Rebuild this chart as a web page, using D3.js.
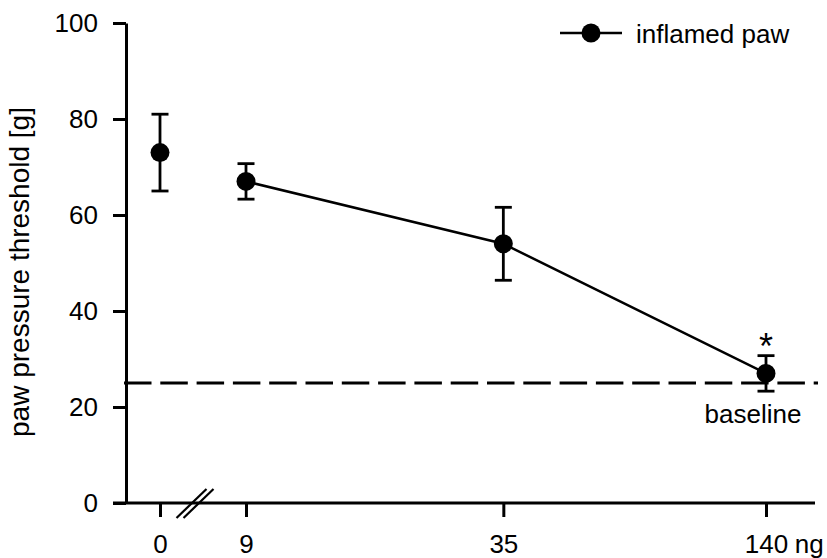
<!DOCTYPE html>
<html>
<head>
<meta charset="utf-8">
<script src="https://cdn.jsdelivr.net/npm/d3@7"></script>
<style>
  html, body { margin: 0; padding: 0; background: #fff; }
  svg { display: block; }
  text { font-family: "Liberation Sans", Arial, Helvetica, sans-serif; fill: #000; }
</style>
</head>
<body>
<svg id="chart" width="827" height="558"></svg>
<script>
// Dose (ng) and paw pressure threshold (g), mean ± error
const doses = [0, 9, 35, 140];
const means = [73, 67, 54, 27];
const errors = [8, 3.7, 7.6, 3.7];
const yTicks = [0, 20, 40, 60, 80, 100];
const xTickLabels = ["0", "9", "35", "140"];
const doseUnit = "ng";
const baselineValue = 25;
const significant = [false, false, false, true];
const seriesName = "inflamed paw";
const yTitle = "paw pressure threshold [g]";

const svg = d3.select("#chart");
const ink = "#000";
const fontSize = 26;

// y: linear threshold scale
const y = d3.scaleLinear().domain([0, 100]).range([503, 23]);
const axisX = 126;

// x: log-spaced doses, with the zero dose set off by an axis break
const xLog = d3.scaleLog().domain([9, 140]).range([246, 766]);
const zeroGap = 86;
const xPosOf = d => d === 0 ? xLog(9) - zeroGap : xLog(d);
const x = d3.scaleOrdinal().domain(doses).range(doses.map(xPosOf));

// dashed baseline reference
svg.append("line")
  .attr("x1", 124).attr("x2", 818)
  .attr("y1", y(baselineValue)).attr("y2", y(baselineValue))
  .attr("stroke", ink).attr("stroke-width", 3)
  .attr("stroke-dasharray", "27.5,8.8");

svg.append("text")
  .attr("x", x(140) - 13).attr("y", y(baselineValue) + 40)
  .attr("text-anchor", "middle")
  .style("font-size", fontSize + "px")
  .text("baseline");

// y axis
const yAxis = svg.append("g")
  .attr("transform", `translate(${axisX},0)`)
  .call(d3.axisLeft(y).tickValues(yTicks).tickSize(13).tickSizeOuter(0).tickPadding(15));
yAxis.select(".domain").attr("stroke", ink).attr("stroke-width", 3);
yAxis.selectAll(".tick line").attr("stroke", ink).attr("stroke-width", 3);
yAxis.selectAll(".tick text")
  .style("font-size", fontSize + "px")
  .style("font-family", "'Liberation Sans', Arial, sans-serif")
  .attr("fill", ink);

// x axis
svg.append("line")
  .attr("x1", 113).attr("x2", 815)
  .attr("y1", y(0)).attr("y2", y(0))
  .attr("stroke", ink).attr("stroke-width", 3);

const tickLen = 14, tickPad = 18;
const xAxis = svg.append("g")
  .attr("transform", `translate(0,${y(0)})`)
  .call(d3.axisBottom(x).tickValues(doses).tickSize(tickLen).tickSizeOuter(0).tickPadding(tickPad)
    .tickFormat((d, i) => xTickLabels[i]));
xAxis.select(".domain").remove();
xAxis.selectAll(".tick line").attr("stroke", ink).attr("stroke-width", 3);
xAxis.selectAll(".tick text")
  .style("font-size", fontSize + "px")
  .style("font-family", "'Liberation Sans', Arial, sans-serif")
  .attr("fill", ink);

// unit after the last dose label
const lastLabel = xAxis.selectAll(".tick text").filter(d => d === 140).node();
const halfW = lastLabel.getComputedTextLength() / 2;
svg.append("text")
  .attr("x", x(140) + halfW + 7)
  .attr("y", y(0) + tickLen + tickPad)
  .attr("dy", "0.71em")
  .style("font-size", fontSize + "px")
  .text(doseUnit);

// axis break marks between 0 and the first dose
const breakX = x(0) + 35;
[-3.5, 3.5].forEach(off => {
  svg.append("line")
    .attr("x1", breakX + off - 15).attr("y1", y(0) + 15)
    .attr("x2", breakX + off + 15).attr("y2", y(0) - 14)
    .attr("stroke", ink).attr("stroke-width", 2.2);
});

// y-axis title
svg.append("text")
  .attr("transform", `translate(29,272) rotate(-90)`)
  .attr("text-anchor", "middle")
  .style("font-size", "28px")
  .text(yTitle);

const data = doses.map((d, i) => ({ dose: d, mean: means[i], err: errors[i], sig: significant[i] }));

// connecting line across the non-zero doses
svg.append("path")
  .datum(data.filter(d => d.dose > 0))
  .attr("fill", "none").attr("stroke", ink).attr("stroke-width", 2.5)
  .attr("d", d3.line().x(d => x(d.dose)).y(d => y(d.mean)));

// error bars
const capW = 17;
const eb = svg.append("g").selectAll("g").data(data).join("g");
eb.append("line")
  .attr("x1", d => x(d.dose)).attr("x2", d => x(d.dose))
  .attr("y1", d => y(d.mean - d.err)).attr("y2", d => y(d.mean + d.err))
  .attr("stroke", ink).attr("stroke-width", 2.8);
eb.append("line")
  .attr("x1", d => x(d.dose) - capW / 2).attr("x2", d => x(d.dose) + capW / 2)
  .attr("y1", d => y(d.mean + d.err)).attr("y2", d => y(d.mean + d.err))
  .attr("stroke", ink).attr("stroke-width", 2.8);
eb.append("line")
  .attr("x1", d => x(d.dose) - capW / 2).attr("x2", d => x(d.dose) + capW / 2)
  .attr("y1", d => y(d.mean - d.err)).attr("y2", d => y(d.mean - d.err))
  .attr("stroke", ink).attr("stroke-width", 2.8);

// markers
svg.append("g").selectAll("circle").data(data).join("circle")
  .attr("cx", d => x(d.dose)).attr("cy", d => y(d.mean))
  .attr("r", 9.5).attr("fill", ink);

// significance asterisk
svg.append("g").selectAll("text").data(data.filter(d => d.sig)).join("text")
  .attr("x", d => x(d.dose)).attr("y", d => y(d.mean + d.err) + 3)
  .attr("text-anchor", "middle")
  .style("font-size", "36px")
  .text("*");

// legend
const lg = svg.append("g");
lg.append("line").attr("x1", 560).attr("x2", 622).attr("y1", 33).attr("y2", 33)
  .attr("stroke", ink).attr("stroke-width", 2.5);
lg.append("circle").attr("cx", 591).attr("cy", 33).attr("r", 9.5).attr("fill", ink);
lg.append("text").attr("x", 636).attr("y", 43)
  .style("font-size", fontSize + "px")
  .text(seriesName);
</script>
</body>
</html>
